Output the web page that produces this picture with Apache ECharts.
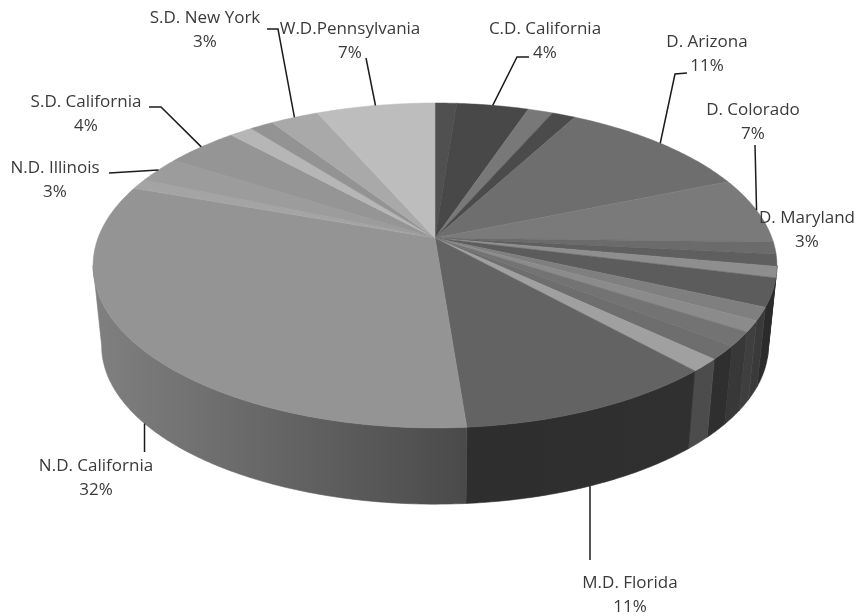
<!DOCTYPE html>
<html>
<head>
<meta charset="utf-8">
<style>html,body{margin:0;padding:0;background:#fff}#chart{width:857px;height:616px}</style>
<script src="https://cdn.jsdelivr.net/npm/echarts@6/dist/echarts.min.js"></script>
</head>
<body>
<div id="chart"></div>
<script>
// Share of filings per district court, clockwise from twelve o'clock.
const courts = ['', 'C.D. California', '', '', 'D. Arizona', 'D. Colorado', '', '', '', 'D. Maryland',
  '', '', '', '', '', 'M.D. Florida', 'N.D. California', '', 'N.D. Illinois', 'S.D. California',
  '', '', 'S.D. New York', 'W.D.Pennsylvania'];
const shares = [1.2, 4.0, 1.4, 1.3, 10.9, 6.6, 1.2, 1.2, 1.1, 2.8,
  1.3, 1.1, 1.4, 1.4, 1.3, 10.55, 31.65, 1.0, 2.6, 4.1,
  1.3, 1.3, 2.7, 6.6];
const topGrays = ['#505050', '#484848', '#787878', '#4b4b4b', '#6e6e6e', '#7a7a7a', '#6b6b6b', '#5f5f5f', '#8e8e8e', '#5c5c5c',
  '#7f7f7f', '#8b8b8b', '#737373', '#6e6e6e', '#a0a0a0', '#636363', '#949494', '#a4a4a4', '#9c9c9c', '#959595',
  '#b6b6b6', '#939393', '#a9a9a9', '#bdbdbd'];
const wallFrom = ['#333', '#333', '#333', '#333', '#333', '#333', '#262626', '#2a2a2a', '#2e2e2e', '#2b2b2b',
  '#3a3a3a', '#3f3f3f', '#383838', '#2f2f2f', '#4c4c4c', '#2e2e2e', '#808080', '#777', '#777', '#777',
  '#777', '#777', '#777', '#777'];
const wallTo = ['#333', '#333', '#333', '#333', '#333', '#333', '#262626', '#2a2a2a', '#2e2e2e', '#2b2b2b',
  '#3a3a3a', '#3f3f3f', '#383838', '#2f2f2f', '#4c4c4c', '#303030', '#4a4a4a', '#777', '#777', '#777',
  '#777', '#777', '#777', '#777'];

// Label centres and the elbow points of their leader lines, by court name.
const labelPlacement = {
  'C.D. California': { at: [545, 41], elbow: [[529, 57], [517, 57]] },
  'D. Arizona': { at: [707, 54], elbow: [[687, 73], [675, 74]] },
  'D. Colorado': { at: [753, 122], elbow: [[755, 145]] },
  'D. Maryland': { at: [807, 230], elbow: null },
  'M.D. Florida': { at: [630, 595], elbow: [[null, 560]], lower: true },
  'N.D. California': { at: [96, 478], elbow: [[null, 452]], lower: true },
  'N.D. Illinois': { at: [55, 180], elbow: [[109, 173]] },
  'S.D. California': { at: [86, 114], elbow: [[149, 107], [161, 107]] },
  'S.D. New York': { at: [205, 30], elbow: [[267, 29], [278, 29]] },
  'W.D.Pennsylvania': { at: [350, 41], elbow: [[366, 58]] }
};

// Perspective disc: hub on screen, horizontal and depth scale, and foreshortening.
const hubX = 435, hubY = 238, scaleX = 337, scaleY = 157.8, fore = 0.169;
// The lower rim is the same disc, slightly smaller and pushed down.
const lowerScale = 0.975, lowerHubY = 319;
const wallStart = 99.7, wallEnd = 260.3;

function rim(deg, lower) {
  const t = deg * Math.PI / 180, u = Math.sin(t), w = Math.cos(t), d = 1 + fore * w;
  const s = lower ? lowerScale : 1;
  return [hubX + s * scaleX * u / d, (lower ? lowerHubY : hubY) - s * scaleY * w / d];
}
function arc(a, b, lower) {
  const n = Math.max(2, Math.ceil(Math.abs(b - a) / 0.75));
  const pts = [];
  for (let i = 0; i <= n; i++) pts.push(rim(a + (b - a) * i / n, lower));
  return pts;
}

const total = shares.reduce((s, v) => s + v, 0);
let running = 0;
const rows = shares.map((v, i) => {
  const from = running / total * 360;
  running += v;
  return [from, running / total * 360, v, i];
});

function renderSlice(params, api) {
  const from = api.value(0), to = api.value(1), value = api.value(2), i = api.value(3);
  const children = [];

  // Outer wall, only where the rim faces the viewer.
  const a = Math.max(from, wallStart), b = Math.min(to, wallEnd);
  if (b > a) {
    const up = arc(a, b, false), down = arc(a, b, true).reverse();
    const xs = up.concat(down).map(p => p[0]);
    const left = Math.min.apply(null, xs), right = Math.max.apply(null, xs);
    const fill = {
      type: 'linear', x: left, y: 0, x2: right, y2: 0, global: true,
      colorStops: [{ offset: 0, color: wallFrom[i] }, { offset: 1, color: wallTo[i] }]
    };
    children.push({
      type: 'polygon', z2: 1,
      shape: { points: up.concat(down) },
      style: { fill: fill, stroke: fill, lineWidth: 0.6 }
    });
  }

  // Top face.
  children.push({
    type: 'polygon', z2: 2,
    shape: { points: [[hubX, hubY]].concat(arc(from, to, false)) },
    style: { fill: topGrays[i], stroke: topGrays[i], lineWidth: 0.5 }
  });

  // Label and leader line.
  const name = courts[i], place = labelPlacement[name];
  if (place) {
    if (place.elbow) {
      const anchor = rim((from + to) / 2, !!place.lower);
      const knots = place.elbow.map(p => [p[0] === null ? anchor[0] : p[0], p[1]]);
      children.push({
        type: 'polyline', z2: 3,
        shape: { points: knots.concat([anchor]) },
        style: { fill: null, stroke: '#1c1c1c', lineWidth: 1.5 }
      });
    }
    children.push({
      type: 'text', z2: 4,
      style: {
        x: place.at[0], y: place.at[1],
        text: name + '\n' + Math.round(value * 100 / total) + '%',
        align: 'center', verticalAlign: 'middle',
        font: '17px "Open Sans", Lato, sans-serif', lineHeight: 24, fill: '#3a3a3a'
      }
    });
  }
  return { type: 'group', children: children };
}

const chart = echarts.init(document.getElementById('chart'), null, { renderer: 'canvas' });
chart.setOption({
  backgroundColor: '#ffffff',
  animation: false,
  series: [{
    type: 'custom',
    coordinateSystem: 'none',
    silent: true,
    clip: false,
    renderItem: renderSlice,
    data: rows
  }]
});
</script>
</body>
</html>
